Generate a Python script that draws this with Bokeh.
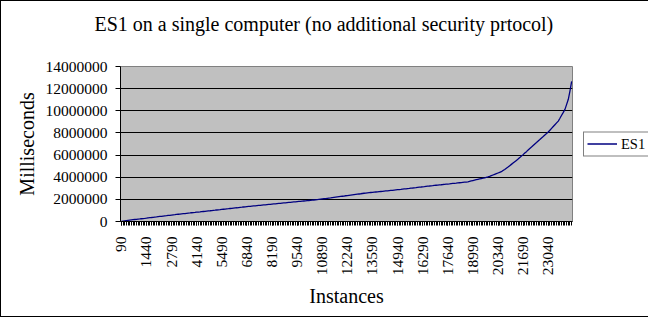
import math
from bokeh.plotting import figure
from bokeh.models import Range1d, FixedTicker, PrintfTickFormatter, Legend, LegendItem, Title
from bokeh.embed import file_html
from bokeh.resources import INLINE

# Categories: instances (every 90)
instances = list(range(90, 24301, 90))
# Milliseconds (in thousands)
ms_thousands = [
    20, 40, 60, 80, 100, 120, 140, 160, 180, 200,
    215, 230, 250, 265, 280, 300, 330, 345, 360, 380,
    400, 415, 435, 455, 470, 490, 510, 525, 545, 560,
    580, 600, 615, 635, 655, 670, 690, 705, 720, 740,
    755, 770, 790, 805, 820, 840, 855, 870, 890, 905,
    920, 940, 955, 970, 990, 1005, 1020, 1040, 1055, 1070,
    1090, 1105, 1120, 1140, 1155, 1175, 1190, 1210, 1225, 1240,
    1260, 1275, 1290, 1310, 1325, 1345, 1360, 1375, 1390, 1405,
    1420, 1435, 1450, 1465, 1480, 1495, 1510, 1525, 1540, 1555,
    1570, 1585, 1600, 1615, 1630, 1645, 1660, 1675, 1690, 1705,
    1720, 1735, 1750, 1765, 1780, 1795, 1810, 1820, 1835, 1850,
    1865, 1880, 1895, 1910, 1925, 1940, 1955, 1975, 1995, 2015,
    2035, 2055, 2075, 2095, 2115, 2135, 2160, 2180, 2200, 2220,
    2240, 2260, 2280, 2300, 2325, 2345, 2365, 2385, 2405, 2425,
    2445, 2465, 2485, 2505, 2530, 2550, 2570, 2590, 2605, 2620,
    2635, 2650, 2665, 2680, 2695, 2710, 2725, 2745, 2760, 2775,
    2790, 2805, 2820, 2840, 2855, 2870, 2885, 2900, 2920, 2940,
    2955, 2975, 2990, 3010, 3025, 3045, 3060, 3080, 3100, 3115,
    3135, 3150, 3170, 3190, 3205, 3225, 3240, 3260, 3275, 3290,
    3305, 3320, 3340, 3355, 3370, 3385, 3400, 3420, 3435, 3450,
    3465, 3485, 3500, 3515, 3535, 3550, 3565, 3580, 3620, 3660,
    3700, 3740, 3775, 3810, 3845, 3880, 3915, 3950, 3990, 4030,
    4080, 4140, 4200, 4260, 4320, 4380, 4440, 4500, 4600, 4700,
    4810, 4920, 5040, 5160, 5280, 5400, 5520, 5640, 5770, 5910,
    6040, 6180, 6310, 6450, 6590, 6720, 6860, 7000, 7130, 7270,
    7400, 7540, 7670, 7810, 7940, 8080, 8245, 8410, 8575, 8740,
    8905, 9070, 9330, 9600, 9860, 10130, 10580, 11040, 11800, 12650,
]
milliseconds = [v * 1000 for v in ms_thousands]
x_tick_labels = [90, 1440, 2790, 4140, 5490, 6840, 8190, 9540, 10890, 12240,
                 13590, 14940, 16290, 17640, 18990, 20340, 21690, 23040]
y_ticks = [0, 2000000, 4000000, 6000000, 8000000, 10000000, 12000000, 14000000]

FONT = "Liberation Serif"
BIG = "20px"
TICK = "15.5px"

p = figure(frame_width=452, frame_height=155, output_backend="svg", toolbar_location=None,
           x_range=Range1d(45, 24345), y_range=Range1d(0, 14000000),
           min_border_left=119, min_border_right=74, min_border_top=65,
           min_border_bottom=95, title=None,
           background_fill_color="#C0C0C0", border_fill_color="white")
p.outline_line_color = "#808080"

# spacer between title and plot area (closest to frame), then the title
spacer = Title(text=" ", text_font=FONT, text_font_size="10px", standoff=9)
p.add_layout(spacer, "above")
main_title = Title(text="ES1 on a single computer (no additional security prtocol)",
                   text_font=FONT, text_font_size=BIG, text_font_style="normal",
                   text_color="black", align="left", offset=-26, standoff=19)
p.add_layout(main_title, "above")

r = p.line(instances, milliseconds, line_color="#000080", line_width=1.3)

# axes
p.xaxis.ticker = FixedTicker(ticks=x_tick_labels, minor_ticks=instances)
p.xaxis.formatter = PrintfTickFormatter(format="%d")
p.xaxis.major_label_orientation = math.pi / 2
p.xaxis.axis_label = "Instances"
p.yaxis.ticker = FixedTicker(ticks=y_ticks)
p.yaxis.formatter = PrintfTickFormatter(format="%d")
p.yaxis.axis_label = "Milliseconds"
p.yaxis.minor_tick_line_color = None

for ax in (p.xaxis[0], p.yaxis[0]):
    ax.axis_line_color = "black"
    ax.major_tick_line_color = "black"
    ax.major_label_text_font = FONT
    ax.major_label_text_font_size = TICK
    ax.major_label_text_color = "black"
    ax.axis_label_text_font = FONT
    ax.axis_label_text_font_size = BIG
    ax.axis_label_text_font_style = "normal"
    ax.axis_label_text_color = "black"
    ax.major_tick_in = 0

p.xaxis.major_tick_out = 4
p.xaxis.minor_tick_out = 4
p.xaxis.minor_tick_in = 0
p.xaxis.minor_tick_line_color = "black"
p.xaxis.major_label_standoff = 11
p.xaxis.axis_label_standoff = 7
p.yaxis.major_tick_out = 5
p.yaxis.major_label_standoff = 8
p.yaxis.axis_label_standoff = 5

p.xgrid.grid_line_color = None
p.ygrid.ticker = FixedTicker(ticks=y_ticks)
p.ygrid.grid_line_color = "black"
p.ygrid.grid_line_width = 1

legend = Legend(items=[LegendItem(label="ES1", renderers=[r])], location="left")
legend.label_text_font = FONT
legend.label_text_font_size = "14.5px"
legend.label_text_color = "black"
legend.border_line_color = "black"
legend.border_line_width = 1
legend.background_fill_color = "white"
legend.background_fill_alpha = 1
legend.padding = 3
legend.spacing = 0
legend.margin = 11
legend.label_standoff = 4
legend.glyph_width = 30
legend.glyph_height = 16
legend.label_height = 16
p.add_layout(legend, "right")

p.styles = {"border": "1px solid black"}

open("out.html", "w").write(file_html(p, INLINE))
